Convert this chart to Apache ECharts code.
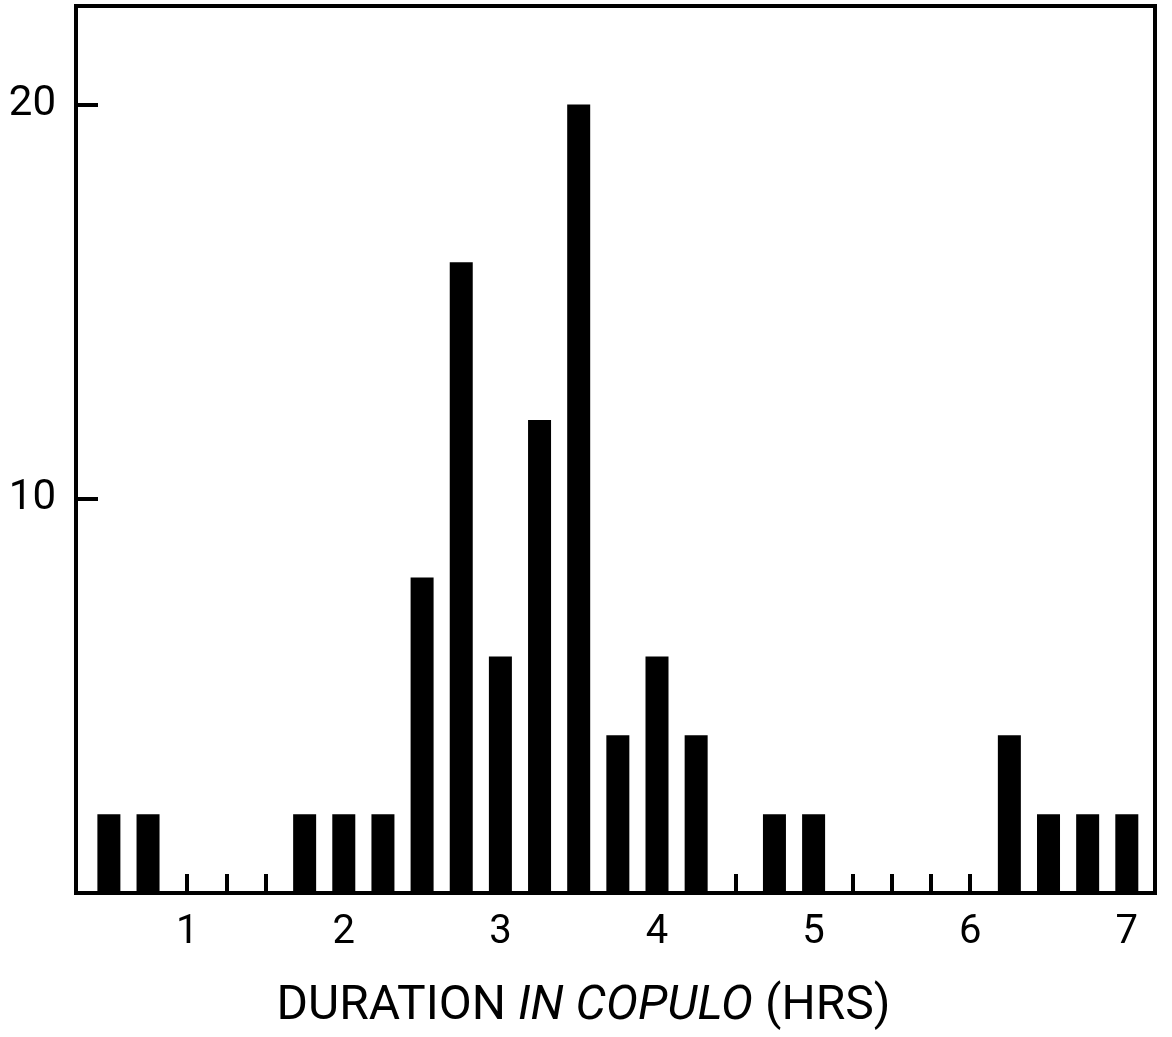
<!DOCTYPE html>
<html>
<head>
<meta charset="utf-8">
<script src="https://cdn.jsdelivr.net/npm/echarts@6/dist/echarts.min.js"></script>
<style>
html, body { margin: 0; padding: 0; background: #fff; }
#chart { width: 1172px; height: 1037px; }
</style>
</head>
<body>
<div id="chart"></div>
<script>
// Duration in copulo (hours), bin centres every 0.25 h
const durations = [0.5, 0.75, 1, 1.25, 1.5, 1.75, 2, 2.25, 2.5, 2.75, 3, 3.25, 3.5, 3.75,
                   4, 4.25, 4.5, 4.75, 5, 5.25, 5.5, 5.75, 6, 6.25, 6.5, 6.75, 7];
// Number of pairs in each bin
const counts = [2, 2, 0, 0, 0, 2, 2, 2, 8, 16, 6, 12, 20, 4,
                6, 4, 0, 2, 2, 0, 0, 0, 0, 4, 2, 2, 2];
const xTickLabels = [1, 2, 3, 4, 5, 6, 7];
const yTickLabels = [10, 20];

const FONT = 'Roboto, "Liberation Sans", sans-serif';

const chart = echarts.init(document.getElementById('chart'), null, { renderer: 'canvas' });
chart.setOption({
  animation: false,
  backgroundColor: '#ffffff',
  grid: {
    left: 76, right: 17, top: 6, bottom: 144,
    show: true, borderColor: '#000', borderWidth: 4, backgroundColor: 'transparent'
  },
  xAxis: {
    type: 'value',
    min: 0.29, max: 7.18,
    splitLine: { show: false },
    axisLine: { show: true, lineStyle: { color: '#000', width: 4 } },
    axisTick: {
      show: true, inside: true, length: 19, customValues: durations,
      lineStyle: { color: '#000', width: 4 }
    },
    axisLabel: {
      customValues: xTickLabels, margin: 20,
      color: '#000', fontSize: 40, fontFamily: FONT
    },
    name: '{a|DURATION }{b|IN COPULO}{a| (HRS)}',
    nameLocation: 'middle',
    nameGap: 90,
    nameTextStyle: {
      padding: [0, 64, 0, 0],
      rich: {
        a: { fontSize: 48, fontFamily: FONT, color: '#000' },
        b: { fontSize: 48, fontFamily: FONT, fontStyle: 'italic', color: '#000' }
      }
    }
  },
  yAxis: {
    type: 'value',
    min: 0, max: 22.5,
    splitLine: { show: false },
    axisLine: { show: true, lineStyle: { color: '#000', width: 4 } },
    axisTick: {
      show: true, inside: true, length: 22, customValues: yTickLabels,
      lineStyle: { color: '#000', width: 4 }
    },
    axisLabel: {
      customValues: yTickLabels, margin: 20,
      color: '#000', fontSize: 42, fontFamily: FONT
    }
  },
  series: [{
    type: 'bar',
    data: durations.map((d, i) => [d, counts[i]]),
    barWidth: 23,
    itemStyle: { color: '#000' }
  }]
});
</script>
</body>
</html>
